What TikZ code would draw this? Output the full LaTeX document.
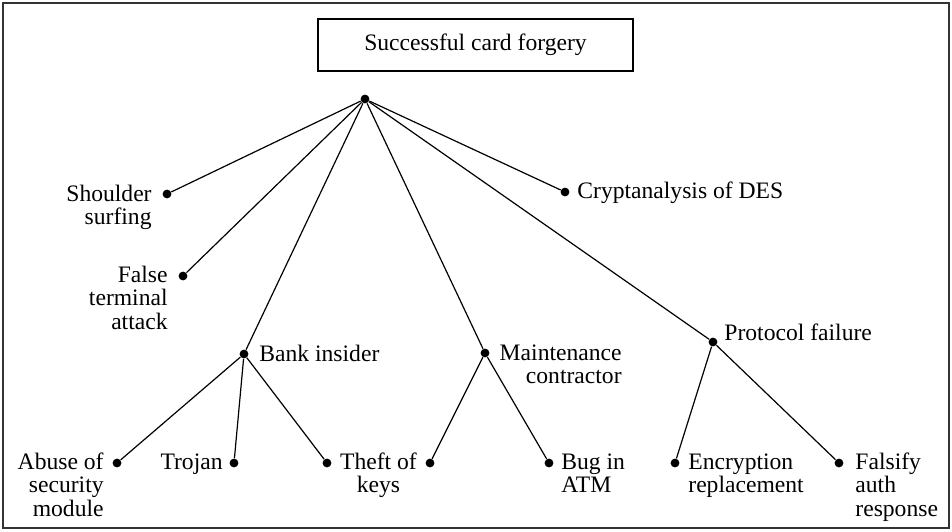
\documentclass[tikz,border=0pt]{standalone}
\usepackage{fontspec}
\setmainfont{Liberation Serif}
\newcommand{\labR}[1]{\begin{tabular}[t]{@{}r@{}}#1\end{tabular}}
\newcommand{\labL}[1]{\begin{tabular}[t]{@{}l@{}}#1\end{tabular}}
\newcommand{\labC}[1]{\begin{tabular}[t]{@{}c@{}}#1\end{tabular}}
\begin{document}
\begin{tikzpicture}[x=0.5pt,y=-0.5pt,
  dot/.style={circle,fill=black,inner sep=0pt,minimum size=4.4pt},
  lbl/.style={inner sep=0pt,font=\fontsize{11.8}{11.8}\selectfont},
  edge/.style={line width=0.6pt},
  titlebox/.style={draw,line width=1.3pt,minimum width=157.5pt,minimum height=26pt,inner sep=0pt,font=\fontsize{11.8}{12}\selectfont}]
\useasboundingbox (0,0) rectangle (952,531);
\draw[line width=0.6pt,black!80] (3,3) rectangle (949,528);
\node[titlebox] (title) at (475.5,45) {Successful card forgery};
% dots
\node[dot] (root) at (365,99) {};
\node[dot] (dShoulder) at (167,194) {};
\node[dot] (dFalse) at (183,276) {};
\node[dot] (dCrypt) at (565,192) {};
\node[dot] (dBank) at (244,354) {};
\node[dot] (dMaint) at (485,353) {};
\node[dot] (dProt) at (713,342) {};
\node[dot] (dAbuse) at (117,463) {};
\node[dot] (dTrojan) at (234,463) {};
\node[dot] (dTheftA) at (327,463) {};
\node[dot] (dTheftB) at (430,463) {};
\node[dot] (dBug) at (549,463) {};
\node[dot] (dEnc) at (675,463) {};
\node[dot] (dFals) at (839,463) {};
% labels
\node[lbl,anchor=base east] (tShoulder) at (152,201) {\labR{Shoulder\\surfing}};
\node[lbl,anchor=base east] (tFalse) at (168,282) {\labR{False\\terminal\\attack}};
\node[lbl,anchor=base west] (tCrypt) at (577,198) {Cryptanalysis of DES};
\node[lbl,anchor=base west] (tBank) at (259,361) {Bank insider};
\node[lbl,anchor=base east] (tMaint) at (622,360) {\labR{Maintenance\\contractor}};
\node[lbl,anchor=base west] (tProt) at (724,340) {Protocol failure};
\node[lbl,anchor=base east] (tAbuse) at (104,469) {\labR{Abuse of\\security\\module}};
\node[lbl,anchor=base east] (tTrojan) at (223,469) {Trojan};
\node[lbl,anchor=base] (tTheft) at (378.5,469) {\labC{Theft of\\keys}};
\node[lbl,anchor=base west] (tBug) at (561,469) {\labL{Bug in\\ATM}};
\node[lbl,anchor=base west] (tEnc) at (688,469) {\labL{Encryption\\replacement}};
\node[lbl,anchor=base west] (tFals) at (855,469) {\labL{Falsify\\auth\\response}};
% edges
\foreach \c in {dShoulder,dFalse,dBank,dMaint,dProt,dCrypt}
  \draw[edge] (root) -- (\c);
\foreach \c in {dAbuse,dTrojan,dTheftA}
  \draw[edge] (dBank) -- (\c);
\foreach \c in {dTheftB,dBug}
  \draw[edge] (dMaint) -- (\c);
\foreach \c in {dEnc,dFals}
  \draw[edge] (dProt) -- (\c);
\end{tikzpicture}
\end{document}
